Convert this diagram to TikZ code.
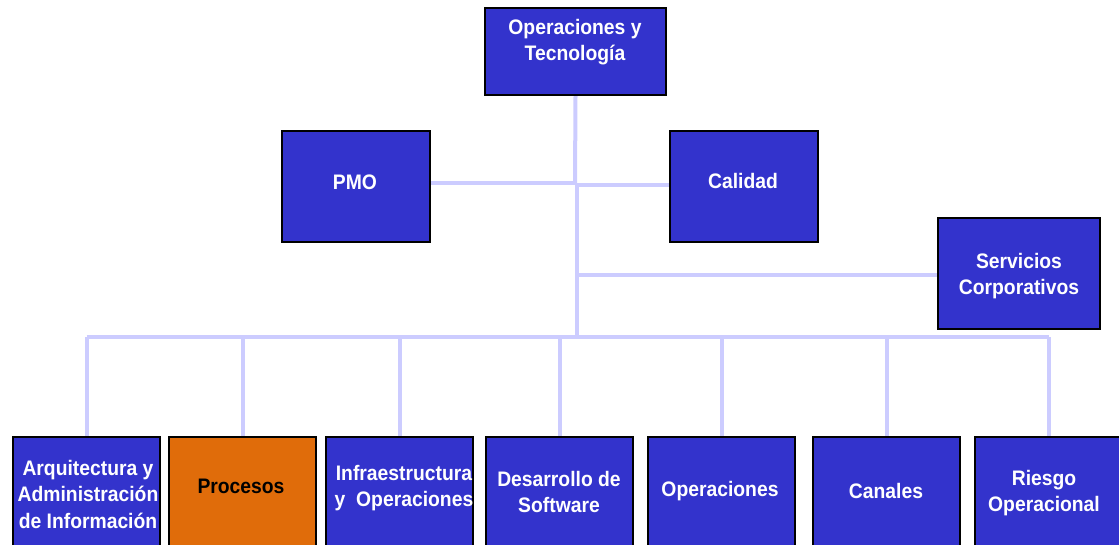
\documentclass[tikz,border=0pt]{standalone}
\usepackage{fontspec}
\setmainfont[FakeStretch=0.92]{Liberation Sans}
\usetikzlibrary{backgrounds}
\begin{document}
\begin{tikzpicture}[x=1pt,y=-1pt,
  box/.style={draw=black, line width=2pt, fill=boxblue, anchor=north west, inner sep=0pt},
  procbox/.style={box, fill=procorange},
  lbl/.style={text=white, align=center, inner sep=0pt,
    font=\bfseries\fontsize{21}{26.5}\selectfont},
  conn/.style={draw=connlav, line width=4pt}]
\definecolor{boxblue}{RGB}{51,51,204}
\definecolor{procorange}{RGB}{224,108,10}
\definecolor{connlav}{RGB}{204,204,255}
\useasboundingbox (0,0) rectangle (1119,544);
\clip (0,0) rectangle (1119,544);

% boxes (text placed separately)
\node[box, minimum width=181pt, minimum height=87pt] (ot) at (484,7) {};
\node[box, minimum width=148pt, minimum height=111pt] (pmo) at (281,130) {};
\node[box, minimum width=148pt, minimum height=111pt] (cal) at (669,130) {};
\node[box, minimum width=162pt, minimum height=111pt] (srv) at (937,217) {};
\node[box, minimum width=147pt, minimum height=130pt] (b1) at (12,436) {};
\node[procbox, minimum width=147pt, minimum height=130pt] (b2) at (168,436) {};
\node[box, minimum width=147pt, minimum height=130pt] (b3) at (325,436) {};
\node[box, minimum width=147pt, minimum height=130pt] (b4) at (485,436) {};
\node[box, minimum width=147pt, minimum height=130pt] (b5) at (647,436) {};
\node[box, minimum width=147pt, minimum height=130pt] (b6) at (812,436) {};
\node[box, minimum width=147pt, minimum height=130pt] (b7) at (974,436) {};

% connectors, drawn behind the boxes
\coordinate (j1) at (575,183);
\coordinate (j2) at (577,185);
\coordinate (hub) at (577,337);
\begin{scope}[on background layer]
\draw[conn] (ot.south) -- (j1);
\draw[conn] (pmo.east |- j1) -- (j1);
\draw[conn] (cal.west |- j2) -- (j2);
\draw[conn] (hub |- j1) -- (hub);
\draw[conn] (srv.west |- 0,275) -- (hub |- 0,275);
\draw[conn] (b1.north |- hub) -- (b7.north |- hub);
\foreach \b in {b1,b2,b3,b4,b5,b6,b7}
  \draw[conn] (\b.north) -- (\b.north |- hub);
\end{scope}

% labels
\node[lbl] (tot) at (575,42) {Operaciones y\\Tecnología};
\node[lbl] (tpmo) at (355,182) {PMO};
\node[lbl] (tcal) at (743,181) {Calidad};
\node[lbl] (tsrv) at (1019,276) {Servicios\\Corporativos};
\node[lbl] (t1) at (88,494) {Arquitectura y\\Administración\\de Información};
\node[lbl, text=black] (t2) at (241,486) {Procesos};
\node[lbl] (t3) at (404,488) {Infraestructura\\y\ \ Operaciones};
\node[lbl] (t4) at (559,492) {Desarrollo de\\Software};
\node[lbl] (t5) at (720,491) {Operaciones};
\node[lbl] (t6) at (886,491) {Canales};
\node[lbl] (t7) at (1044,493) {Riesgo\\Operacional};
\end{tikzpicture}
\end{document}
